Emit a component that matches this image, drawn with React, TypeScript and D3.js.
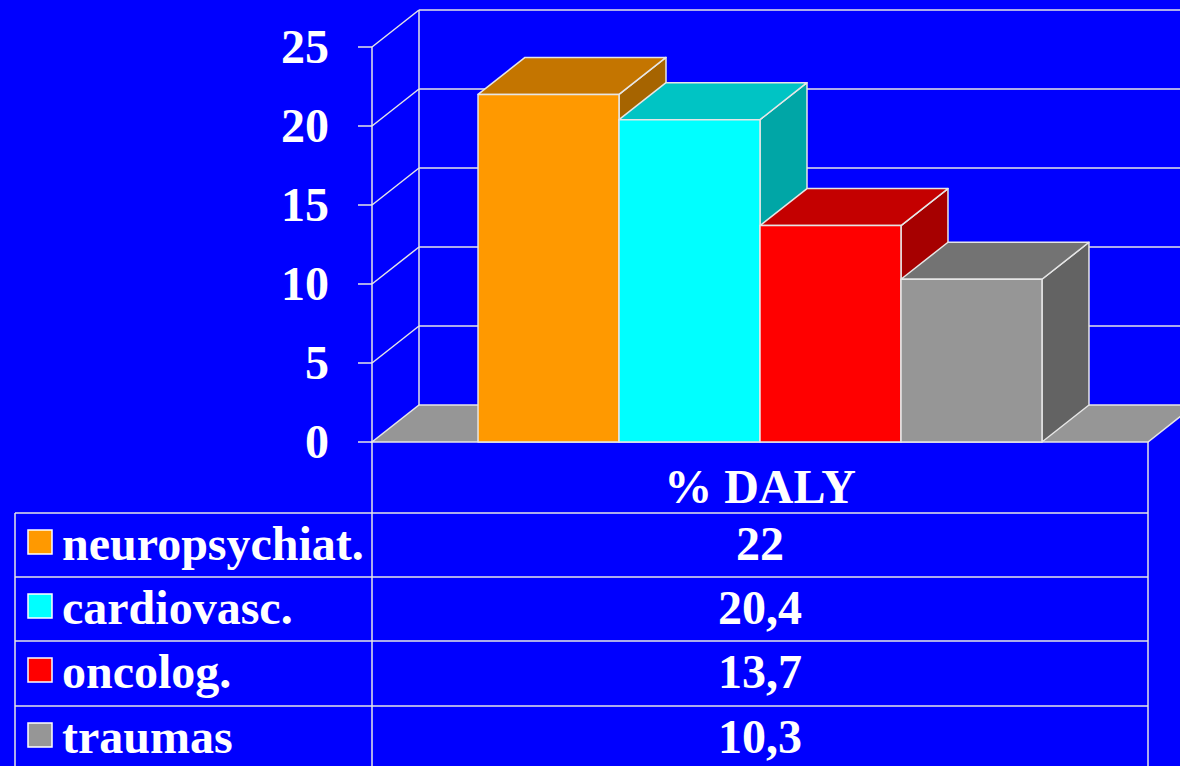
import React from "react";
import * as d3 from "d3";

const categories = ["% DALY"];
const seriesNames = ["neuropsychiat.", "cardiovasc.", "oncolog.", "traumas"];
const seriesValues = [22, 20.4, 13.7, 10.3];
const seriesLabels = ["22", "20,4", "13,7", "10,3"];
const frontColors = ["#FF9900", "#00FFFF", "#FF0000", "#969696"];
const topColors = ["#C47500", "#00C4C4", "#C40000", "#737373"];
const sideColors = ["#A66400", "#00A6A6", "#A60000", "#636363"];
const yTicks = [0, 5, 10, 15, 20, 25];

const W = 1180;
const H = 766;
const DX = 47;
const DY = -37;
const LINE = "#E6E6E6";
const FONT = "'Liberation Serif', 'Times New Roman', serif";
const FS = 48;

export default function App() {
  const y = d3.scaleLinear().domain([0, 25]).range([442, 47]);
  const xCat = d3.scaleBand().domain(categories).range([372, 1148]).padding(0);
  const x = d3
    .scaleBand()
    .domain(seriesNames)
    .range([xCat(categories[0])!, xCat(categories[0])! + xCat.bandwidth()])
    .paddingInner(0)
    .paddingOuter(0.752);

  const x0 = xCat.range()[0];
  const x1 = xCat.range()[1];
  const y0 = y(0);
  const yTop = y(25);

  const rowTops = [513, 577, 641, 706];

  return (
    <svg
      width={W}
      height={H}
      style={{ position: "absolute", left: 0, top: 0, display: "block", background: "#0000FF" }}
    >
      <rect x={0} y={0} width={W} height={H} fill="#0000FF" />
      {/* back wall */}
      <line x1={x0 + DX} y1={yTop + DY} x2={x0 + DX} y2={y0 + DY} stroke={LINE} strokeWidth={1.5} />
      {yTicks.map((t) => (
        <g key={t}>
          {t > 0 && (
            <line x1={x0 + DX} y1={y(t) + DY} x2={x1 + DX} y2={y(t) + DY} stroke={LINE} strokeWidth={1.5} />
          )}
          {t > 0 && (
            <line x1={x0} y1={y(t)} x2={x0 + DX} y2={y(t) + DY} stroke={LINE} strokeWidth={1.5} />
          )}
          <line x1={x0 - 14} y1={y(t)} x2={x0} y2={y(t)} stroke={LINE} strokeWidth={1.5} />
          <text
            x={329}
            y={y(t) + 16}
            textAnchor="end"
            fill="#FFFFFF"
            fontFamily={FONT}
            fontWeight="bold"
            fontSize={FS}
          >
            {t}
          </text>
        </g>
      ))}
      {/* floor */}
      <polygon
        points={`${x0},${y0} ${x1},${y0} ${x1 + DX},${y0 + DY} ${x0 + DX},${y0 + DY}`}
        fill="#969696"
        stroke={LINE}
        strokeWidth={1.5}
      />
      {/* front axis */}
      <line x1={x0} y1={yTop} x2={x0} y2={H} stroke={LINE} strokeWidth={1.5} />
      {/* bars */}
      {seriesNames.map((s, i) => {
        const bx = x(s)!;
        const bw = x.bandwidth();
        const by = y(seriesValues[i]);
        return (
          <g key={s} stroke={LINE} strokeWidth={1.5} strokeLinejoin="round">
            <polygon
              points={`${bx + bw},${by} ${bx + bw + DX},${by + DY} ${bx + bw + DX},${y0 + DY} ${bx + bw},${y0}`}
              fill={sideColors[i]}
            />
            <polygon
              points={`${bx},${by} ${bx + bw},${by} ${bx + bw + DX},${by + DY} ${bx + DX},${by + DY}`}
              fill={topColors[i]}
            />
            <rect x={bx} y={by} width={bw} height={y0 - by} fill={frontColors[i]} />
          </g>
        );
      })}
      {/* table */}
      <line x1={x1} y1={y0} x2={x1} y2={H} stroke={LINE} strokeWidth={1.5} />
      <line x1={15} y1={rowTops[0]} x2={15} y2={H} stroke={LINE} strokeWidth={1.5} />
      {rowTops.map((r) => (
        <line key={r} x1={15} y1={r} x2={x1} y2={r} stroke={LINE} strokeWidth={1.5} />
      ))}
      <text
        x={(x0 + x1) / 2}
        y={503}
        textAnchor="middle"
        fill="#FFFFFF"
        fontFamily={FONT}
        fontWeight="bold"
        fontSize={FS}
      >
        {categories[0]}
      </text>
      {seriesNames.map((s, i) => {
        const top = rowTops[i];
        return (
          <g key={s}>
            <rect x={28} y={top + 17} width={24} height={24} fill={frontColors[i]} stroke="#FFFFFF" strokeWidth={1.5} />
            <text x={62} y={top + 47} fill="#FFFFFF" fontFamily={FONT} fontWeight="bold" fontSize={FS}>
              {s}
            </text>
            <text
              x={(x0 + x1) / 2}
              y={top + 47}
              textAnchor="middle"
              fill="#FFFFFF"
              fontFamily={FONT}
              fontWeight="bold"
              fontSize={FS}
            >
              {seriesLabels[i]}
            </text>
          </g>
        );
      })}
    </svg>
  );
}
